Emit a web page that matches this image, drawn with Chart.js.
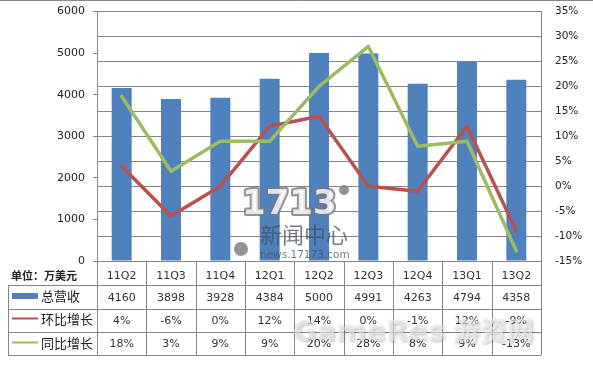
<!DOCTYPE html>
<html><head><meta charset="utf-8">
<style>html,body{margin:0;padding:0;background:#fff}canvas{display:block}</style>
<script src="https://cdn.jsdelivr.net/npm/chart.js@4"></script>
</head><body><canvas id="c" width="593" height="366"></canvas>
<script>
const categories=['11Q2','11Q3','11Q4','12Q1','12Q2','12Q3','12Q4','13Q1','13Q2'];
const revenue=[4160,3898,3928,4384,5000,4991,4263,4794,4358];
const qoq=[4,-6,0,12,14,0,-1,12,-9];
const yoy=[18,3,9,9,20,28,8,9,-13];
const unitLabel='单位：万美元';
const revenueName='总营收', qoqName='环比增长', yoyName='同比增长';
const BLUE='#4F81BD',RED='#B9514E',GREEN='#9DBB61',GRID='#868686';
const FONT='"DejaVu Sans"', CJK='"Noto Sans CJK SC"';

const tablePlugin={id:'table',
 afterDraw(chart){
  const {ctx,chartArea:a,scales:{x}}=chart;
  const rows=[a.bottom,285,309,332,355], L=8;
  const step=(a.right-a.left)/categories.length;
  ctx.save();
  ctx.strokeStyle=GRID;ctx.lineWidth=1;
  ctx.beginPath();
  ctx.moveTo(0,.5);ctx.lineTo(593,.5);
  rows.forEach((y,i)=>{const s=Math.round(y)+.5;ctx.moveTo(i===0?a.left:L,s);ctx.lineTo(a.right,s);});
  for(let i=0;i<=categories.length;i++){const X=Math.round(a.left+i*step)+.5;ctx.moveTo(X,a.bottom);ctx.lineTo(X,rows[4]);}
  ctx.moveTo(L+.5,rows[1]);ctx.lineTo(L+.5,rows[4]);
  ctx.stroke();
  ctx.textBaseline='middle';
  ctx.fillStyle='#222';
  ctx.font='bold 11px '+CJK;ctx.textAlign='left';
  ctx.fillText(unitLabel,11,276);
  ctx.font='11px '+FONT;ctx.textAlign='center';ctx.fillStyle='#333';
  const cols=[revenue,qoq.map(v=>v+'%'),yoy.map(v=>v+'%')];
  cols.forEach((arr,r)=>arr.forEach((v,i)=>ctx.fillText(String(v),x.getPixelForTick(i),[298,321,344][r])));
  ctx.font='13px '+CJK;ctx.textAlign='left';ctx.fillStyle='#222';
  [revenueName,qoqName,yoyName].forEach((t,r)=>ctx.fillText(t,41,[296,319,343][r]));
  ctx.fillStyle=BLUE;ctx.fillRect(12,293,26,6);
  ctx.strokeStyle=RED;ctx.lineWidth=2;ctx.beginPath();ctx.moveTo(12,318.5);ctx.lineTo(38,318.5);ctx.stroke();
  ctx.strokeStyle=GREEN;ctx.beginPath();ctx.moveTo(12,342.5);ctx.lineTo(38,342.5);ctx.stroke();
  ctx.restore();
 }};
const watermarkPlugin={id:'wm',
 afterDraw(chart){
  const {ctx}=chart;
  ctx.save();ctx.textBaseline='middle';ctx.textAlign='left';
  ctx.lineJoin='round';
  ctx.font='bold 34px '+FONT;
  ctx.strokeStyle='rgba(120,120,125,.8)';ctx.lineWidth=4;ctx.strokeText('1713',242,205);
  ctx.fillStyle='rgba(255,255,255,.8)';ctx.fillText('1713',242,205);
  ctx.fillStyle='rgba(120,120,125,.8)';
  ctx.beginPath();ctx.arc(344,190,5,0,7);ctx.fill();
  ctx.beginPath();ctx.arc(241,249,7,0,7);ctx.fill();
  ctx.fillStyle='rgba(70,80,100,.75)';
  ctx.font='22px '+CJK;ctx.fillText('新闻中心',260,235);
  ctx.font='10.5px '+FONT;ctx.fillText('news.17173.com',260,255);
  ctx.shadowColor='rgba(90,90,90,.6)';ctx.shadowBlur=3;ctx.shadowOffsetX=1;ctx.shadowOffsetY=1;
  ctx.fillStyle='rgba(240,240,240,.6)';
  ctx.font='bold 29px '+FONT;ctx.fillText('GameRes',293,333);
  ctx.font='bold 27px '+CJK;ctx.fillText('游资网',453,331);
  ctx.restore();
 }};

function noPad(s){s.paddingTop=0;s.paddingBottom=0;}
new Chart(document.getElementById('c'),{
 data:{labels:categories,datasets:[
  {type:'line',label:qoqName,data:qoq,yAxisID:'y2',borderColor:RED,borderWidth:3.5,borderCapStyle:'round',borderJoinStyle:'round',pointRadius:0,tension:0,order:1},
  {type:'line',label:yoyName,data:yoy,yAxisID:'y2',borderColor:GREEN,borderWidth:3.5,borderCapStyle:'round',borderJoinStyle:'round',pointRadius:0,tension:0,order:0},
  {type:'bar',label:revenueName,data:revenue,yAxisID:'y',backgroundColor:BLUE,barPercentage:.405,categoryPercentage:1,order:2}
 ]},
 options:{responsive:false,animation:false,
  layout:{padding:{top:11.5,left:0,right:0,bottom:0}},
  plugins:{legend:{display:false},tooltip:{enabled:false}},
  scales:{
   x:{grid:{display:false},border:{color:GRID},
      ticks:{color:'#333',font:{family:FONT,size:11},padding:1,maxRotation:0,autoSkip:false},
      afterFit(s){s.height=105;}},
   y:{position:'left',min:0,max:6000,
      ticks:{stepSize:1000,color:'#222',font:{family:FONT,size:11},padding:8,callback:v=>String(v)},
      grid:{drawOnChartArea:false,drawTicks:true,tickLength:4,color:GRID},border:{color:GRID},
      afterFit(s){s.width=97;noPad(s);}},
   y2:{position:'right',min:-15,max:35,
      ticks:{stepSize:5,color:'#222',font:{family:FONT,size:10.5},padding:14,callback:v=>v+'%'},
      grid:{color:GRID,drawTicks:false},border:{color:GRID},
      afterFit(s){s.width=52;noPad(s);}}
  }},
 plugins:[tablePlugin,watermarkPlugin]
});
</script></body></html>
